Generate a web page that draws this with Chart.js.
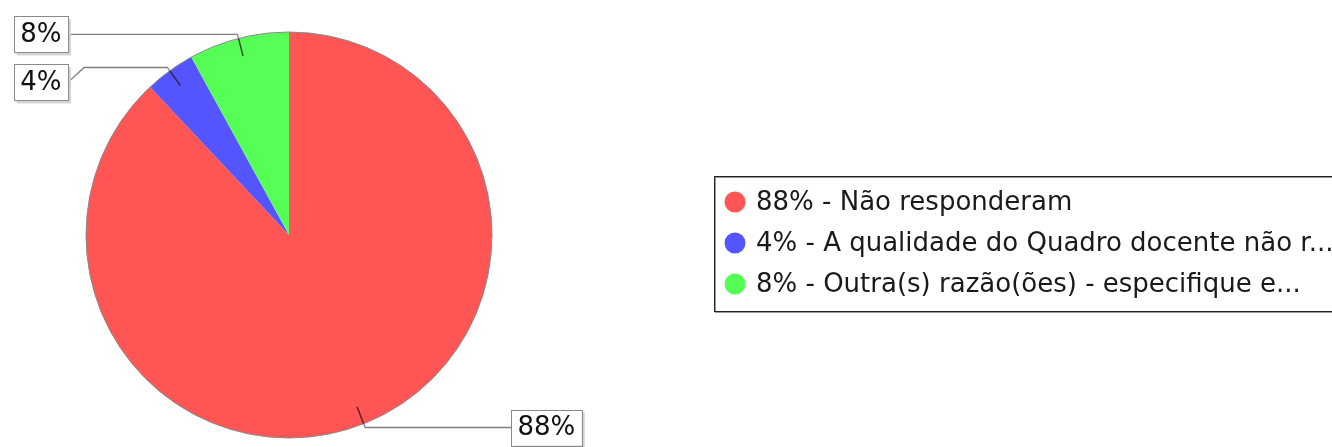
<!DOCTYPE html>
<html>
<head>
<meta charset="utf-8">
<script src="https://cdn.jsdelivr.net/npm/chart.js@4.4.1/dist/chart.umd.min.js"></script>
<style>
html, body { margin: 0; padding: 0; background: #fff; }
</style>
</head>
<body>
<canvas id="myChart" width="1332" height="447"></canvas>
<script>
// dados do grafico
var categorias = ["Não responderam", "A qualidade do Quadro docente não r...", "Outra(s) razão(ões) - especifique e..."];
var percentuais = [88, 4, 8];
var rotulos = ["88%", "4%", "8%"];
var cores = ["#ff5555", "#5555ff", "#55ff55"];

var fonte = "26px 'DejaVu Sans', sans-serif";

// rotulos com linha de ligacao + contorno da pizza
var rotulosPlugin = {
    id: "rotulos",
    afterDatasetsDraw: function(chart) {
        var ctx = chart.ctx;
        var meta = chart.getDatasetMeta(0);
        var cx = meta.data[0].x;
        var cy = meta.data[0].y;
        var r = meta.data[0].outerRadius;

        ctx.save();
        ctx.strokeStyle = "#8a8a8a";
        ctx.lineWidth = 1;
        ctx.beginPath();
        ctx.arc(cx, cy, r, 0, Math.PI * 2);
        ctx.stroke();

        var itens = [];
        meta.data.forEach(function(arc, i) {
            var a = (arc.startAngle + arc.endAngle) / 2;
            itens.push({
                i: i,
                ax: cx + Math.cos(a) * r * 0.91,
                ay: cy + Math.sin(a) * r * 0.91,
                bx: cx + Math.cos(a) * r,
                by: cy + Math.sin(a) * r,
                ex: cx + Math.cos(a) * r * 1.02,
                ey: cy + Math.sin(a) * r * 1.02,
                esquerda: Math.cos(a) < 0
            });
        });

        // evitar sobreposicao dos rotulos de cada lado
        var lados = [true, false];
        lados.forEach(function(lado) {
            var grupo = itens.filter(function(it) { return it.esquerda == lado; });
            grupo.sort(function(p, q) { return p.ey - q.ey; });
            var ultimo = -1000;
            grupo.forEach(function(it) {
                it.ly = Math.max(it.ey, ultimo + 48);
                ultimo = it.ly;
            });
        });

        ctx.font = fonte;
        itens.forEach(function(it) {
            var texto = rotulos[it.i];
            var w = ctx.measureText(texto).width + 13;
            var h = 36;
            var bx, borda, dobra;
            if (it.esquerda) {
                borda = cx - r - 18;
                bx = borda - w;
                dobra = borda + 16;
            } else {
                borda = cx + r + 19;
                bx = borda;
                dobra = borda - 16;
            }
            var by = it.ly - h / 2;

            // tracinho escuro sobre a fatia
            ctx.strokeStyle = "rgba(40,20,20,0.75)";
            ctx.lineWidth = 1.5;
            ctx.beginPath();
            ctx.moveTo(it.ax, it.ay);
            ctx.lineTo(it.bx, it.by);
            ctx.stroke();

            ctx.strokeStyle = "#808080";
            ctx.lineWidth = 1.3;
            ctx.beginPath();
            ctx.moveTo(it.bx, it.by);
            ctx.lineTo(it.ex, it.ey);
            ctx.lineTo(dobra, it.ey);
            ctx.lineTo(borda, it.ly);
            ctx.stroke();

            ctx.fillStyle = "#d4d4d4";
            ctx.fillRect(bx + 3, by + 3, w, h);
            ctx.fillStyle = "#fff";
            ctx.fillRect(bx, by, w, h);
            ctx.strokeStyle = "#8a8a8a";
            ctx.lineWidth = 1;
            ctx.strokeRect(Math.round(bx) + 0.5, Math.round(by) + 0.5, Math.round(w), h);

            ctx.fillStyle = "#111";
            ctx.textAlign = "center";
            ctx.textBaseline = "middle";
            ctx.fillText(texto, bx + w / 2, it.ly + 1);
        });
        ctx.restore();
    }
};

// legenda no estilo da imagem
var legendaPlugin = {
    id: "legenda",
    afterDraw: function(chart) {
        var ctx = chart.ctx;
        var lx = 714, ly = 176, lw = 700, lh = 135;
        ctx.save();
        ctx.strokeStyle = "#999";
        ctx.lineWidth = 1;
        ctx.strokeRect(lx + 1.5, ly + 1.5, lw, lh);
        ctx.strokeStyle = "#222";
        ctx.strokeRect(lx + 0.5, ly + 0.5, lw, lh);

        ctx.font = fonte;
        ctx.textAlign = "left";
        ctx.textBaseline = "middle";
        categorias.forEach(function(cat, i) {
            var y = ly + 26 + i * 41;
            ctx.fillStyle = cores[i];
            ctx.beginPath();
            ctx.arc(lx + 21, y, 10.5, 0, Math.PI * 2);
            ctx.fill();
            ctx.fillStyle = "#1a1a1a";
            ctx.fillText(rotulos[i] + " - " + cat, lx + 42, y + 1);
        });
        ctx.restore();
    }
};

new Chart("myChart", {
    type: "pie",
    data: {
        labels: categorias,
        datasets: [{
            data: percentuais,
            backgroundColor: cores,
            borderWidth: 0
        }]
    },
    options: {
        responsive: false,
        animation: false,
        devicePixelRatio: 1,
        layout: { padding: { left: 86, right: 840, top: 32, bottom: 9 } },
        plugins: {
            legend: { display: false },
            tooltip: { enabled: false }
        }
    },
    plugins: [rotulosPlugin, legendaPlugin]
});
</script>
</body>
</html>
